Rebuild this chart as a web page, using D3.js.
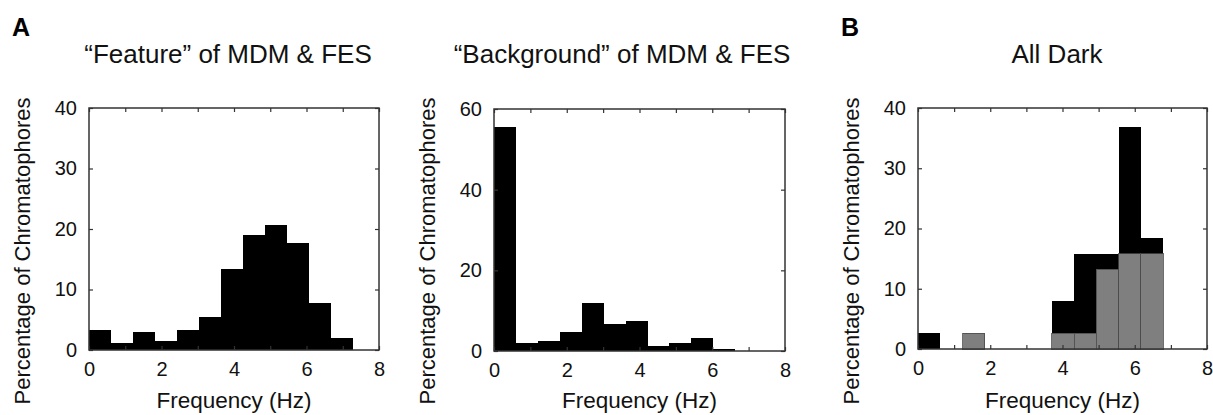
<!DOCTYPE html>
<html>
<head>
<meta charset="utf-8">
<script src="https://cdn.jsdelivr.net/npm/d3@7"></script>
<style>
  body { margin: 0; background: #fff; }
  svg { font-family: "Liberation Sans", Arial, sans-serif; }
  .tick text { fill: #111; }
</style>
</head>
<body>
<div id="chart"></div>
<script>
// histogram heights (percent of chromatophores), one value per bin
var featureValues = [3.3, 1.1, 2.9, 1.5, 3.3, 5.5, 13.4, 19.0, 20.7, 17.7, 7.7, 2.0];
var backgroundValues = [55.6, 2.1, 2.6, 4.6, 12.0, 6.6, 7.4, 1.2, 2.0, 3.2, 0.6, 0];
var darkTotal = [2.6, 0, 2.6, 0, 0, 0, 7.9, 15.8, 15.8, 36.8, 18.4];
var darkGray = [0, 0, 2.6, 0, 0, 0, 2.6, 2.6, 13.2, 15.8, 15.8];

var binWidths = [0.607, 0.603, 0.617];
var xTicks = [0, 1, 2, 3, 4, 5, 6, 7, 8];
var yTicksA = [0, 10, 20, 30, 40];
var yTicksB = [0, 20, 40, 60];

var titles = ['\u201CFeature\u201D of MDM & FES', '\u201CBackground\u201D of MDM & FES', 'All Dark'];

var svg = d3.select('#chart').append('svg')
	.attr('width', 1213)
	.attr('height', 415);

var panels = [
	{left: 89, top: 108, width: 290, height: 242, yMax: 40, yTicks: yTicksA, titleX: 228, letter: 'A',
		series: [{values: featureValues, fill: '#000'}], bw: binWidths[0], title: titles[0]},
	{left: 494, top: 109, width: 291, height: 242, yMax: 60, yTicks: yTicksB, titleX: 622, letter: null,
		series: [{values: backgroundValues, fill: '#000'}], bw: binWidths[1], title: titles[1]},
	{left: 918, top: 108, width: 289, height: 241, yMax: 40, yTicks: yTicksA, titleX: 1057, letter: 'B',
		series: [{values: darkTotal, fill: '#000'}, {values: darkGray, fill: '#7f7f7f', stroke: '#4a4a4a'}],
		bw: binWidths[2], title: titles[2]}
];

panels.forEach(function(p) {
	var x = d3.scaleLinear().domain([0, 8]).range([p.left, p.left + p.width]);
	var y = d3.scaleLinear().domain([0, p.yMax]).range([p.top + p.height, p.top]);

	var g = svg.append('g');

	// bars (gray series drawn over the black totals)
	p.series.forEach(function(s) {
		var bins = s.values.map(function(v, i) { return {i: i, v: v}; })
			.filter(function(d) { return d.v > 0; });

		g.append('g').selectAll('rect')
			.data(bins)
			.enter().append('rect')
			.attr('x', function(d) { return x(d.i * p.bw); })
			.attr('width', function(d) { return x((d.i + 1) * p.bw) - x(d.i * p.bw); })
			.attr('y', function(d) { return y(d.v); })
			.attr('height', function(d) { return y(0) - y(d.v); })
			.attr('fill', s.fill)
			.attr('stroke', s.stroke || 'none')
			.attr('stroke-width', s.stroke ? 0.8 : 0)
			.attr('shape-rendering', 'crispEdges');
	});

	// axes, ticks pointing inward on all four sides
	var fmtX = function(d) { return d % 2 === 0 ? d : ''; };
	g.append('g')
		.attr('transform', 'translate(0,' + y(0) + ')')
		.call(d3.axisBottom(x).tickValues(xTicks).tickSize(-4).tickPadding(12).tickFormat(fmtX));
	g.append('g')
		.attr('transform', 'translate(0,' + p.top + ')')
		.call(d3.axisTop(x).tickValues(xTicks).tickSize(-4).tickFormat(''));
	g.append('g')
		.attr('transform', 'translate(' + p.left + ',0)')
		.call(d3.axisLeft(y).tickValues(p.yTicks).tickSize(-4).tickPadding(12));
	g.append('g')
		.attr('transform', 'translate(' + (p.left + p.width) + ',0)')
		.call(d3.axisRight(y).tickValues(p.yTicks).tickSize(-4).tickFormat(''));

	g.selectAll('.domain').remove();
	g.selectAll('.tick line').attr('stroke', '#333').attr('stroke-width', 1.2);
	g.selectAll('.tick text').attr('font-size', 20).attr('font-family', '"Liberation Sans", Arial, sans-serif');

	// frame
	g.append('rect')
		.attr('x', p.left).attr('y', p.top)
		.attr('width', p.width).attr('height', p.height)
		.attr('fill', 'none')
		.attr('stroke', '#333')
		.attr('stroke-width', 1.5);

	// labels
	g.append('text')
		.attr('x', p.left + p.width / 2)
		.attr('y', 408)
		.attr('text-anchor', 'middle')
		.attr('font-size', 22.5)
		.attr('fill', '#111')
		.text('Frequency (Hz)');

	g.append('text')
		.attr('transform', 'translate(' + (p.left - 59) + ',251) rotate(-90)')
		.attr('text-anchor', 'middle')
		.attr('font-size', 22)
		.attr('fill', '#111')
		.text('Percentage of Chromatophores');

	g.append('text')
		.attr('x', p.titleX)
		.attr('y', 63)
		.attr('text-anchor', 'middle')
		.attr('font-size', 26)
		.attr('fill', '#111')
		.text(p.title);

	if (p.letter) {
		g.append('text')
			.attr('x', p.left - 77)
			.attr('y', 36)
			.attr('font-size', 25)
			.attr('font-weight', 'bold')
			.attr('fill', '#000')
			.text(p.letter);
	}
});
</script>
</body>
</html>
